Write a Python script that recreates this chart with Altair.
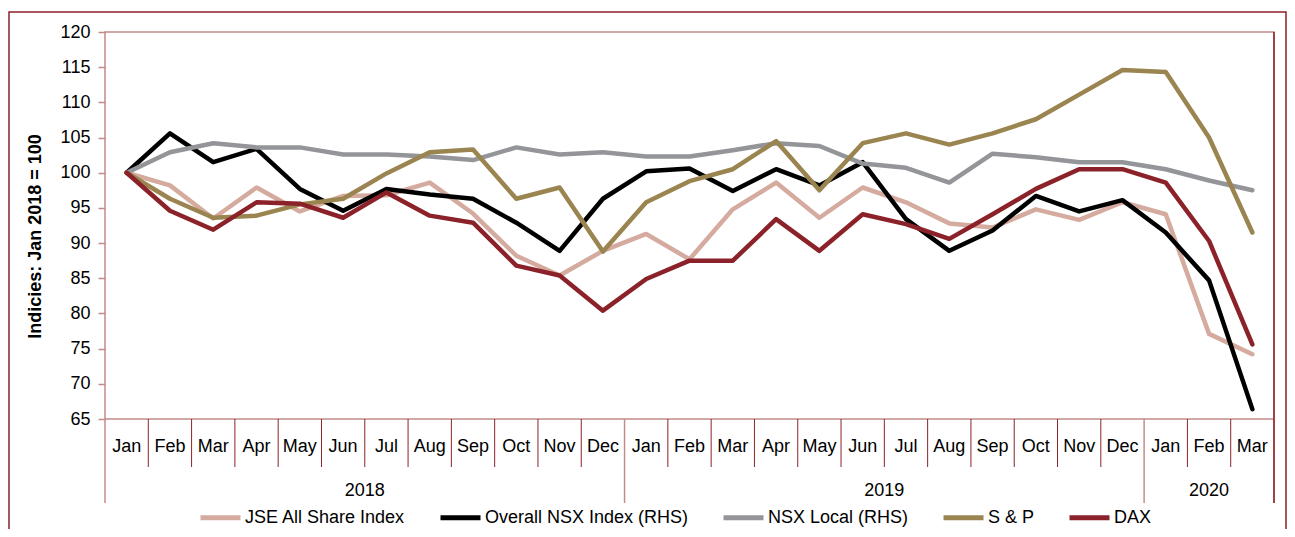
import altair as alt
import pandas as pd

# ---- data ----
months = ["Jan", "Feb", "Mar", "Apr", "May", "Jun", "Jul", "Aug", "Sep", "Oct", "Nov", "Dec",
          "Jan", "Feb", "Mar", "Apr", "May", "Jun", "Jul", "Aug", "Sep", "Oct", "Nov", "Dec",
          "Jan", "Feb", "Mar"]
years = ["2018"] * 12 + ["2019"] * 12 + ["2020"] * 3

series_names = ["JSE All Share Index", "Overall NSX Index (RHS)", "NSX Local (RHS)", "S & P", "DAX"]
series_colors = ["#D5AB9F", "#000000", "#949599", "#9A8550", "#8C2229"]

jse = [100, 98.2, 93.5, 97.9, 94.5, 96.7, 96.8, 98.6, 94.2, 88.2, 85.4, 88.9, 91.3, 87.7,
       94.8, 98.6, 93.6, 97.9, 95.8, 92.8, 92.2, 94.8, 93.3, 95.8, 94.1, 77.1, 74.2]
nsx = [100, 105.6, 101.5, 103.4, 97.7, 94.6, 97.7, 96.9, 96.3, 92.9, 88.9, 96.3, 100.2, 100.6,
       97.4, 100.5, 98.2, 101.5, 93.4, 88.9, 91.8, 96.7, 94.5, 96.1, 91.5, 84.7, 66.4]
nsx_local = [100, 102.9, 104.2, 103.6, 103.6, 102.6, 102.6, 102.3, 101.8, 103.6, 102.6, 102.9,
             102.3, 102.3, 103.2, 104.2, 103.8, 101.3, 100.7, 98.6, 102.7, 102.2, 101.5, 101.5,
             100.5, 98.9, 97.5]
snp = [100, 96.3, 93.6, 93.9, 95.5, 96.3, 99.9, 102.9, 103.3, 96.3, 97.9, 88.8, 95.8, 98.8,
       100.5, 104.5, 97.5, 104.2, 105.6, 104.0, 105.6, 107.6, 111.1, 114.6, 114.3, 105.0, 91.5]
dax = [100, 94.6, 91.9, 95.8, 95.6, 93.6, 97.2, 93.9, 92.9, 86.8, 85.4, 80.4, 84.9, 87.5,
       87.5, 93.4, 88.9, 94.1, 92.7, 90.6, 94.1, 97.7, 100.5, 100.5, 98.6, 90.3, 75.6]

y_ticks = [65, 70, 75, 80, 85, 90, 95, 100, 105, 110, 115, 120]
y_title = "Indicies: Jan 2018 = 100"

# ---- layout ----
W, H = 1169, 387
FONT = "Liberation Sans"
LIGHT = "#C48B8B"
DARK = "#8C2229"
n = len(months)

xscale = alt.Scale(domain=[-0.5, n - 0.5], nice=False, zero=False)
yscale = alt.Scale(domain=[y_ticks[0], y_ticks[-1]], nice=False, zero=False)
cscale = alt.Scale(domain=series_names, range=series_colors)

all_values = [jse, nsx, nsx_local, snp, dax]

legend = alt.Legend(
    title=None, orient="none", legendX=93, legendY=463, direction="horizontal",
    symbolType="stroke", symbolSize=1600, symbolStrokeWidth=5, labelFontSize=18,
    labelFont=FONT, labelColor="#000000", labelOffset=2, columnPadding=24, padding=0,
    symbolOpacity=1, labelLimit=500,
)

yaxis = alt.Axis(
    values=y_ticks, title=y_title, domain=False, grid=False, labelOverlap=False,
    tickColor=LIGHT, tickSize=7, tickWidth=1.5, labelFontSize=18, labelFont=FONT,
    labelColor="#000000", labelPadding=8, titleFont=FONT, titleFontSize=18,
    titleFontWeight="bold", titleColor="#000000", titlePadding=15, titleY=204)

layers = []
for k, (name, vals) in enumerate(zip(series_names, all_values)):
    df = pd.DataFrame({"i": list(range(n)), "v": vals, "series": name})
    layers.append(
        alt.Chart(df).mark_line(strokeWidth=4.5, strokeJoin="round", strokeCap="round").encode(
            x=alt.X("i:Q", scale=xscale, axis=None),
            y=alt.Y("v:Q", scale=yscale, axis=yaxis),
            color=alt.Color("series:N", scale=cscale, legend=legend),
        )
    )

# category separators
bounds = []
for b in range(n + 1):
    is_year = b == 0 or b == n or years[b] != years[b - 1]
    bounds.append({"b": b - 0.5, "kind": "year" if is_year else "month"})
bdf = pd.DataFrame(bounds)
month_sep = alt.Chart(bdf).transform_filter(alt.datum.kind == "month").mark_rule(
    color=DARK, strokeWidth=1).encode(
    x=alt.X("b:Q", scale=xscale, axis=None), y=alt.value(H), y2=alt.value(H + 48))
year_sep = alt.Chart(bdf).transform_filter(alt.datum.kind == "year").mark_rule(
    color=LIGHT, strokeWidth=1.5).encode(
    x=alt.X("b:Q", scale=xscale, axis=None), y=alt.value(H), y2=alt.value(H + 84))
right_edge = alt.Chart(bdf).transform_filter(alt.datum.b == n - 0.5).mark_rule(
    color=DARK, strokeWidth=1.5).encode(
    x=alt.X("b:Q", scale=xscale, axis=None), y=alt.value(0), y2=alt.value(H + 84))

# month labels
mdf = pd.DataFrame({"i": list(range(n)), "m": months})
month_lbl = alt.Chart(mdf).mark_text(fontSize=18, font=FONT, color="#000000",
                                     baseline="middle", align="center").encode(
    x=alt.X("i:Q", scale=xscale, axis=None), y=alt.value(H + 28), text="m:N")

# year labels
ydf = pd.DataFrame({"i": list(range(n)), "yr": years})
year_lbl = alt.Chart(ydf).transform_aggregate(c="mean(i)", groupby=["yr"]).mark_text(
    fontSize=18, font=FONT, color="#000000", baseline="middle", align="center").encode(
    x=alt.X("c:Q", scale=xscale, axis=None), y=alt.value(H + 72), text="yr:N")

# outer frame of the figure
frame = alt.Chart(bdf).transform_filter(alt.datum.b == -0.5).mark_rect(
    fillOpacity=0, stroke=DARK, strokeWidth=1.5).encode(
    x=alt.value(-96), x2=alt.value(W + 12), y=alt.value(-20), y2=alt.value(H + 140))

chart = alt.layer(
    frame, month_sep, year_sep, *layers, right_edge, month_lbl, year_lbl
).properties(
    width=W, height=H, autosize="none", background="#FFFFFF",
    padding={"left": 97, "top": 24, "right": 13, "bottom": 110},
).configure_view(stroke=LIGHT, strokeWidth=1.5)

chart.save("out.html", embed_options={"renderer": "svg", "actions": False})
